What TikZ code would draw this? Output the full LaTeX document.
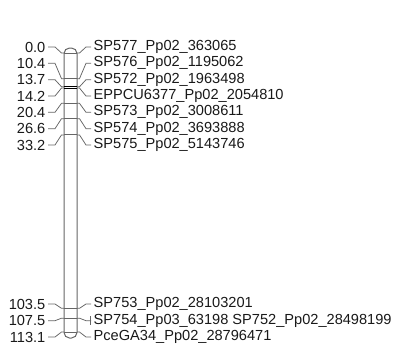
\documentclass[tikz,border=0pt]{standalone}
\usepackage{fontspec}
\setmainfont{Liberation Sans}
\begin{document}
\begin{tikzpicture}[x=1pt,y=-1pt,
  conn/.style={draw=black!60, line width=0.75pt},
  barline/.style={draw=black!60, line width=1pt},
  mk/.style={draw=black!60, line width=1pt},
  lbl/.style={inner sep=0pt, text=black!90, font=\fontsize{14.6}{16}\selectfont}]
\useasboundingbox (0,0) rectangle (394,349);
\fill[white] (0,0) rectangle (394,349);
\draw[barline, rounded corners=5.5pt] (64,48) rectangle (77,338);
\foreach \cmv/\yl/\lab [count=\i] in {
  0.0/47/SP577\_Pp02\_363065,
  10.4/63.3/SP576\_Pp02\_1195062,
  13.7/79.7/SP572\_Pp02\_1963498,
  14.2/96/EPPCU6377\_Pp02\_2054810,
  20.4/112.3/SP573\_Pp02\_3008611,
  26.6/128.7/SP574\_Pp02\_3693888,
  33.2/145/SP575\_Pp02\_5143746,
  103.5/304/SP753\_Pp02\_28103201,
  107.5/320.7/SP754\_Pp03\_63198 SP752\_Pp02\_28498199,
  113.1/337/PceGA34\_Pp02\_28796471}{
  \pgfmathsetmacro\ym{53+2.467*\cmv}
  \node[lbl, anchor=east] (L\i) at (45.5,\yl) {\cmv};
  \node[lbl, anchor=west] (R\i) at (93.5,\yl) {\lab};
  \coordinate (a\i) at (55,\yl);
  \coordinate (b\i) at (61.5,\ym);
  \coordinate (c\i) at (64,\ym);
  \coordinate (d\i) at (77,\ym);
  \coordinate (e\i) at (79.5,\ym);
  \coordinate (f\i) at (86,\yl);
  \draw[conn] ([xshift=2.5pt]L\i.east) -- (a\i) -- (b\i) -- (c\i);
  \draw[conn] (d\i) -- (e\i) -- (f\i) -- ([xshift=-2.5pt]R\i.west);
  \draw[mk] (c\i) -- (d\i);
}
\draw[draw=black, line width=1pt] (c3) -- (d3);
\draw[draw=black, line width=1pt] (c4) -- (d4);
\coordinate (t1) at (90,316);
\coordinate (t2) at (90,324.5);
\draw[conn] (t1) -- (t2);
\end{tikzpicture}
\end{document}
